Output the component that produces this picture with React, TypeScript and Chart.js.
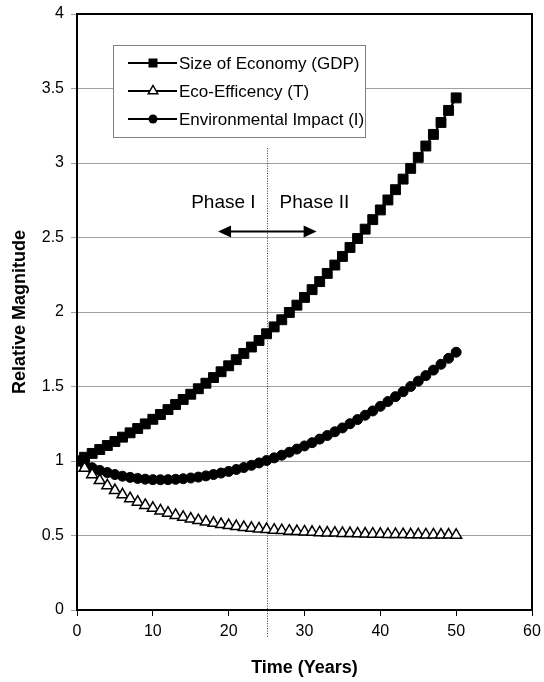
import React, { useEffect, useRef } from 'react';
import { Chart, registerables } from 'chart.js';

Chart.register(...registerables);

const years = [0, 1, 2, 3, 4, 5, 6, 7, 8, 9, 10, 11, 12, 13, 14, 15, 16, 17, 18, 19, 20, 21, 22, 23, 24, 25, 26, 27, 28, 29, 30, 31, 32, 33, 34, 35, 36, 37, 38, 39, 40, 41, 42, 43, 44, 45, 46, 47, 48, 49, 50];

const gdp = [1.0, 1.025, 1.051, 1.077, 1.104, 1.131, 1.16, 1.189, 1.218, 1.249, 1.28, 1.312, 1.345, 1.379, 1.413, 1.448, 1.485, 1.522, 1.56, 1.599, 1.639, 1.68, 1.722, 1.765, 1.809, 1.854, 1.9, 1.948, 1.997, 2.046, 2.098, 2.15, 2.204, 2.259, 2.315, 2.373, 2.433, 2.493, 2.556, 2.62, 2.685, 2.752, 2.821, 2.892, 2.964, 3.038, 3.114, 3.192, 3.272, 3.353, 3.437];

const ecoEfficiency = [1.0, 0.952, 0.909, 0.87, 0.835, 0.803, 0.774, 0.748, 0.725, 0.703, 0.684, 0.666, 0.651, 0.636, 0.623, 0.612, 0.601, 0.591, 0.583, 0.575, 0.568, 0.561, 0.555, 0.55, 0.545, 0.541, 0.537, 0.534, 0.53, 0.528, 0.525, 0.523, 0.52, 0.518, 0.517, 0.515, 0.514, 0.512, 0.511, 0.51, 0.509, 0.508, 0.508, 0.507, 0.506, 0.506, 0.505, 0.505, 0.504, 0.504, 0.503];

const impact = [1.0, 0.976, 0.955, 0.937, 0.922, 0.909, 0.898, 0.89, 0.883, 0.878, 0.875, 0.874, 0.875, 0.877, 0.881, 0.886, 0.892, 0.9, 0.909, 0.919, 0.93, 0.943, 0.956, 0.971, 0.987, 1.003, 1.021, 1.039, 1.059, 1.08, 1.101, 1.123, 1.147, 1.171, 1.196, 1.222, 1.25, 1.278, 1.307, 1.336, 1.367, 1.399, 1.432, 1.465, 1.5, 1.536, 1.573, 1.61, 1.649, 1.689, 1.73];

const seriesLabels = ['Size of Economy (GDP)', 'Eco-Efficency (T)', 'Environmental Impact (I)'];
const yTickLabels = ['0', '0.5', '1', '1.5', '2', '2.5', '3', '3.5', '4'];
const phaseLabels = ['Phase I', 'Phase II'];
const phaseBoundary = 25;
const arrowRange = [18.6, 31.6];
const arrowLevel = 2.54;
const phaseTextLevel = 2.7;
const dividerTop = 3.1;

const xTitle = 'Time (Years)';
const yTitle = 'Relative Magnitude';

const FONT = '"Liberation Sans", Arial, sans-serif';

function drawMarker(ctx: CanvasRenderingContext2D, kind: string, x: number, y: number) {
  ctx.save();
  ctx.strokeStyle = '#000';
  ctx.fillStyle = '#000';
  ctx.lineWidth = 1;
  ctx.beginPath();
  if (kind === 'rect') {
    ctx.rect(x - 4.5, y - 4.5, 9, 9);
    ctx.fill();
  } else if (kind === 'circle') {
    ctx.arc(x, y, 4.5, 0, Math.PI * 2);
    ctx.fill();
  } else {
    const r = 5.5;
    ctx.moveTo(x, y - r);
    ctx.lineTo(x + r * 0.866, y + r * 0.5);
    ctx.lineTo(x - r * 0.866, y + r * 0.5);
    ctx.closePath();
    ctx.fillStyle = '#fff';
    ctx.fill();
    ctx.lineWidth = 1.5;
    ctx.stroke();
  }
  ctx.restore();
}

const annotations = {
  id: 'annotations',
  beforeDatasetsDraw(chart: any) {
    const { ctx, chartArea: a, scales } = chart;
    const x = scales.x;
    const y = scales.y;
    ctx.save();
    const px = Math.round(x.getPixelForValue(phaseBoundary)) + 0.5;
    ctx.strokeStyle = '#333';
    ctx.lineWidth = 1;
    ctx.setLineDash([1, 1.5]);
    ctx.beginPath();
    ctx.moveTo(px, y.getPixelForValue(dividerTop));
    ctx.lineTo(px, a.bottom + 27);
    ctx.stroke();
    ctx.setLineDash([]);
    ctx.strokeStyle = '#000';
    ctx.lineWidth = 2;
    ctx.strokeRect(a.left, a.top, a.right - a.left, a.bottom - a.top);
    ctx.restore();
  },
  afterDatasetsDraw(chart: any) {
    const { ctx, chartArea: a, scales } = chart;
    const x = scales.x;
    const y = scales.y;
    ctx.save();
    const lx = a.left + 36;
    const ly = a.top + 31;
    const lw = 252;
    const lh = 92;
    ctx.fillStyle = '#fff';
    ctx.fillRect(lx, ly, lw, lh);
    ctx.strokeStyle = '#808080';
    ctx.lineWidth = 1;
    ctx.strokeRect(lx + 0.5, ly + 0.5, lw, lh);
    const kinds = ['rect', 'triangle', 'circle'];
    ctx.font = `17px ${FONT}`;
    ctx.textBaseline = 'middle';
    ctx.textAlign = 'left';
    seriesLabels.forEach((lab, i) => {
      const ry = ly + 18 + i * 28;
      ctx.strokeStyle = '#000';
      ctx.lineWidth = 2;
      ctx.beginPath();
      ctx.moveTo(lx + 15, ry);
      ctx.lineTo(lx + 64, ry);
      ctx.stroke();
      drawMarker(ctx, kinds[i], lx + 40, ry);
      ctx.fillStyle = '#000';
      ctx.fillText(lab, lx + 66, ry + 1);
    });
    const px = x.getPixelForValue(phaseBoundary);
    ctx.font = `19px ${FONT}`;
    ctx.textBaseline = 'alphabetic';
    ctx.fillStyle = '#000';
    ctx.textAlign = 'right';
    ctx.fillText(phaseLabels[0], px - 11, y.getPixelForValue(phaseTextLevel));
    ctx.textAlign = 'left';
    ctx.fillText(phaseLabels[1], px + 13, y.getPixelForValue(phaseTextLevel));
    const ay = y.getPixelForValue(arrowLevel);
    const x1 = x.getPixelForValue(arrowRange[0]);
    const x2 = x.getPixelForValue(arrowRange[1]);
    ctx.strokeStyle = '#000';
    ctx.lineWidth = 2;
    ctx.beginPath();
    ctx.moveTo(x1 + 8, ay);
    ctx.lineTo(x2 - 8, ay);
    ctx.stroke();
    ctx.beginPath();
    ctx.moveTo(x1, ay);
    ctx.lineTo(x1 + 13, ay - 6);
    ctx.lineTo(x1 + 13, ay + 6);
    ctx.closePath();
    ctx.moveTo(x2, ay);
    ctx.lineTo(x2 - 13, ay - 6);
    ctx.lineTo(x2 - 13, ay + 6);
    ctx.closePath();
    ctx.fillStyle = '#000';
    ctx.fill();
    ctx.restore();
  },
};

export default function App() {
  const ref = useRef<HTMLCanvasElement | null>(null);
  useEffect(() => {
    document.body.style.margin = '0';
    if (!ref.current) return;
    const toPts = (vals: number[]) => years.map((yr, i) => ({ x: yr, y: vals[i] }));
    const chart = new Chart(ref.current, {
      type: 'line',
      data: {
        datasets: [
          {
            label: seriesLabels[0],
            data: toPts(gdp),
            borderColor: '#000',
            borderWidth: 2,
            backgroundColor: '#000',
            pointStyle: 'rect',
            pointRadius: 7,
            pointBorderWidth: 1,
            pointBorderColor: '#000',
            pointBackgroundColor: '#000',
            tension: 0,
          },
          {
            label: seriesLabels[1],
            data: toPts(ecoEfficiency),
            borderColor: '#000',
            borderWidth: 2,
            backgroundColor: '#fff',
            pointStyle: 'triangle',
            pointRadius: 6.3,
            pointBorderWidth: 1.5,
            pointBorderColor: '#000',
            pointBackgroundColor: '#fff',
            tension: 0,
          },
          {
            label: seriesLabels[2],
            data: toPts(impact),
            borderColor: '#000',
            borderWidth: 2,
            backgroundColor: '#000',
            pointStyle: 'circle',
            pointRadius: 5,
            pointBorderWidth: 1,
            pointBorderColor: '#000',
            pointBackgroundColor: '#000',
            tension: 0,
          },
        ],
      },
      options: {
        animation: false,
        responsive: true,
        maintainAspectRatio: false,
        layout: { padding: { top: 14, right: 12, left: 0, bottom: 0 } },
        plugins: { legend: { display: false }, tooltip: { enabled: false } },
        scales: {
          x: {
            type: 'linear',
            min: 0,
            max: 60,
            afterFit: (s: any) => { s.height = 72; s.paddingLeft = 0; s.paddingRight = 0; },
            border: { display: false },
            grid: { drawOnChartArea: false, color: '#000', tickLength: 6, lineWidth: 1 },
            ticks: { stepSize: 10, color: '#000', padding: 6, font: { family: FONT, size: 16 } },
            title: { display: true, text: xTitle, color: '#000', font: { family: FONT, size: 18, weight: 'bold' }, padding: { top: 0, bottom: 3 } },
          },
          y: {
            min: 0,
            max: 4,
            afterFit: (s: any) => { s.width = 77; s.paddingTop = 0; s.paddingBottom = 0; },
            border: { display: false },
            grid: { color: '#a0a0a0', tickLength: 6, lineWidth: 1 },
            ticks: {
              stepSize: 0.5,
              color: '#000',
              padding: 7,
              font: { family: FONT, size: 16 },
              callback: (_v: any, i: number) => yTickLabels[i],
            },
            title: { display: true, text: yTitle, color: '#000', font: { family: FONT, size: 18, weight: 'bold' }, padding: { top: 9, bottom: 0 } },
          },
        },
      },
      plugins: [annotations],
    });
    return () => chart.destroy();
  }, []);
  return (
    <div style={{ position: 'relative', width: 544, height: 682 }}>
      <canvas ref={ref} />
    </div>
  );
}
